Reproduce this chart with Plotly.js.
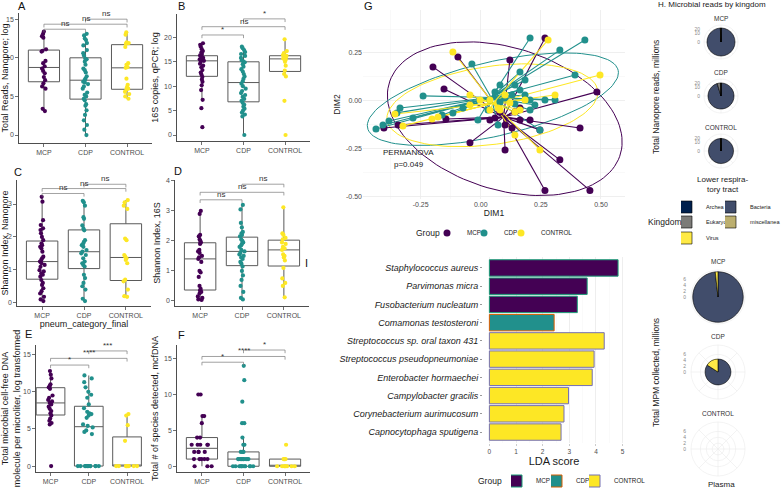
<!DOCTYPE html>
<html>
<head>
<meta charset="utf-8">
<script src="https://cdn.plot.ly/plotly-3.0.1.min.js"></script>
<style>
html,body{margin:0;padding:0;background:#fff;}
#fig{width:784px;height:489px;}
</style>
</head>
<body>
<div id="fig"></div>
<script>
const W = 784, H = 489;
const FONT = 'Liberation Sans, Arial, Helvetica, sans-serif';
const TICK = '#4d4d4d';

const groups = ['MCP', 'CDP', 'CONTROL'];
const groupColors = ['#440154', '#21908C', '#FDE725'];
const outlineColors = ['#1B9E77', '#D95F02', '#7570B3'];

// A: total Nanopore reads (log)
const readsMCP = [13.4,13.1,12.8,12.6,11.1,10.9,10.8,9.6,9.3,8.9,8.6,8.3,8.0,7.5,7.1,6.7,6.3,6.0,3.4,3.1];
const readsCDP = [13.1,12.9,12.5,12.3,11.9,11.6,11.0,10.6,10.3,9.9,9.8,9.5,9.1,8.6,8.4,8.1,7.6,7.3,7.1,6.9,6.8,6.6,6.3,6.0,5.5,5.2,5.0,4.7,4.5,4.0,3.8,3.2,2.6,1.9,1.3,0.7,0];
const readsCTRL = [13.3,13.0,12.0,11.9,11.8,11.4,9.3,9.1,8.8,8.7,7.3,6.5,6.2,6.0,5.9,5.6,5.3,5.0,4.7];
// B: 16S copies, qPCR (log)
const qpcrMCP = [18.8,18.5,18.1,17.6,17.2,16.9,16.6,16.3,16.1,15.9,15.8,15.7,15.6,15.5,15.4,15.2,15.0,14.6,14.2,13.9,13.3,12.8,12.4,11.9,11.4,10.9,10.2,9.2,7.2,5.5,1.6];
const qpcrCDP = [18.1,17.8,17.4,17.0,16.6,16.2,15.8,15.3,15.1,14.9,14.5,14.0,13.5,13.0,12.5,12.0,11.5,11.0,10.5,10.0,9.5,9.0,8.6,8.2,7.8,7.4,7.0,6.6,6.2,5.8,5.4,5.0,4.6,4.2,3.8,0];
const qpcrCTRL = [19.6,17.2,16.8,16.4,16.2,16.0,15.9,15.7,15.6,15.4,15.0,14.2,13.2,12.5,12.0,7.0,0];
// C: Shannon index, Nanopore
const shanMCP = [3.22,3.07,2.51,2.36,2.26,2.21,2.11,2.0,1.9,1.8,1.75,1.7,1.65,1.55,1.4,1.35,1.3,1.25,1.2,1.15,1.09,0.99,0.95,0.89,0.85,0.79,0.69,0.6,0.54,0.44,0.35,0.28,0.18,0.1,0.05];
const shanCDP = [3.1,3.05,2.95,2.6,2.55,2.35,2.25,2.2,1.9,1.85,1.8,1.75,1.7,1.6,1.55,1.5,1.45,1.35,1.25,1.2,1.15,1.1,0.85,0.75,0.6,0.5,0.4,0.12,0.05];
const shanCTRL = [3.12,3.05,2.95,2.85,1.95,1.9,1.45,1.4,1.35,1.3,1.2,0.7,0.65,0.4,0.2,0.18];
// D: Shannon index, 16S
const s16MCP = [3.0,2.9,2.2,2.15,2.05,2.0,1.95,1.9,1.7,1.65,1.6,1.5,1.45,1.4,1.3,1.0,0.95,0.8,0.5,0.4,0.35,0.3,0.25,0.15,0.1,0.05,0.03];
const s16CDP = [3.2,3.05,2.6,2.45,2.3,2.25,2.2,2.15,2.05,2.0,1.95,1.9,1.85,1.8,1.7,1.65,1.6,1.55,1.5,1.45,1.4,1.3,1.25,1.15,1.0,0.85,0.7,0.5,0.3,0.1,0.05];
const s16CTRL = [3.12,2.25,2.2,2.1,2.05,1.95,1.9,1.8,1.75,1.7,1.55,1.5,1.45,1.35,1.1,0.75,0.6,0.5,0.12];
// E: microbial cell-free DNA molecules per microliter (log)
const cfMCP = [12.8,12.3,11.8,11.0,10.8,10.6,10.4,9.5,9.2,8.9,8.7,8.5,8.3,8.0,7.7,7.4,7.1,6.8,6.4,6.1,5.8,5.6,0];
const cfCDP = [12.2,11.8,11.3,10.6,10.0,9.6,9.2,8.3,7.8,7.3,7.1,7.0,6.8,6.5,5.6,5.4,5.2,4.8,4.6,4.3,0,0,0,0,0,0,0,0,0,0,0,0];
const cfCTRL = [7.0,6.8,5.5,3.4,0,0,0,0,0,0,0,0,0];
// F: species detected, mcfDNA
const spMCP = [10,10,7,7,6,4,4,3,3,3,3,3,2,2,2,2,1,1,1,1,1,0,0,0];
const spCDP = [14,12,9,6,6,4,3,3,2,2,2,2,1,1,1,1,1,1,1,1,1,1,0,0,0,0,0,0,0,0,0,0,0,0];
const spCTRL = [3,1,1,1,1,0,0,0,0,0,0,0,0];

// G: ordination coordinates
const dimMCPx = [-0.095,-0.199,-0.153,-0.403,-0.344,-0.145,-0.045,0.267,0.121,0.413,0.483,0.454,0.267,0.101,0.329,0.163,0.080,0.038,0.130,0.163,0.059,0.101,0.142,0.205,0.246];
const dimMCPy = [0.229,0.177,0.061,-0.143,-0.127,-0.096,-0.221,0.328,0.213,-0.143,0.046,-0.47,-0.47,-0.258,-0.310,-0.101,-0.059,-0.101,-0.143,-0.038,-0.091,-0.127,-0.059,-0.101,-0.153];
const dimCDPx = [-0.037,-0.240,-0.336,-0.349,-0.382,-0.407,-0.436,-0.282,-0.161,-0.116,-0.074,0.205,0.329,0.433,0.163,0.184,0.080,0.309,0.205,0.392,0.130,0.038,-0.012,0.072,0.246,0.059,0.101,0.142,0.030,0.163,0.205,0.142,0.184,0.225,0.267,0.080];
const dimCDPy = [0.192,0.025,-0.038,-0.064,-0.106,-0.127,-0.148,-0.091,-0.075,-0.064,-0.038,0.328,0.265,0.318,0.150,0.108,0.082,0.004,-0.049,0.135,0.030,0.004,-0.101,-0.127,-0.153,0.046,0.014,-0.017,-0.049,0.056,0.004,0.082,0.030,-0.023,0.004,-0.007];
const dimCTRLx = [-0.116,-0.357,-0.324,-0.203,-0.178,0.280,0.496,0.309,0.080,0.184,-0.045,0.246,0.142,0.038,0.101,0.072,0.142,-0.003,0.038,0.121,0.163,-0.045];
const dimCTRLy = [0.255,-0.070,-0.132,-0.096,-0.085,0.318,0.135,0.030,-0.049,0.004,0.030,-0.258,-0.180,0.004,0.030,-0.038,-0.059,0.004,-0.049,-0.012,-0.049,-0.023];

// H: reads by kingdom, millions
const kingdoms = ['Archea', 'Bacteria', 'Eukaryota', 'miscellanea', 'Virus'];
const kingdomColors = ['#00204D', '#414D6B', '#7C7B78', '#BCAF6F', '#FFEA46'];
const lrtMCP = [0.06, 23.4, 0.12, 0.03, 0.03];
const lrtCDP = [0.04, 19.4, 0.9, 0.05, 0.02];
const lrtCTRL = [0.05, 18.6, 0.1, 0.02, 0.02];
const plasmaMCP = [0, 8.45, 0, 0, 0.15];
const plasmaCDP = [0, 3.7, 0, 0, 0.7];
const plasmaCTRL = [0, 0, 0, 0, 0];

// I: LDA effect sizes
const ldaSpecies = ['Staphylococcus aureus','Parvimonas micra','Fusobacterium nucleatum','Comamonas testosteroni','Streptococcus sp. oral taxon 431','Streptococcus pseudopneumoniae','Enterobacter hormaechei','Campylobacter gracilis','Corynebacterium aurimucosum','Capnocytophaga sputigena'];
const ldaScore = [4.83, 3.67, 3.30, 2.43, 4.31, 3.93, 3.86, 2.97, 2.80, 2.69];
const ldaGroup = ['MCP','MCP','MCP','CDP','CONTROL','CONTROL','CONTROL','CONTROL','CONTROL','CONTROL'];

// ---------- helpers ----------
const fx = p => p / W;
const fy = p => 1 - p / H;
const xdom = (l, r) => [fx(l), fx(r)];
const ydom = (t, b) => [fy(b), fy(t)];
const axName = (letter, n) => letter + (n === 1 ? '' : n);
const axKey = (letter, n) => letter + 'axis' + (n === 1 ? '' : n);

const traces = [];
const shapes = [];
const annotations = [];
const layout = {
  width: W, height: H,
  margin: {l: 0, r: 0, t: 0, b: 0, autoexpand: false},
  paper_bgcolor: '#ffffff', plot_bgcolor: '#ffffff',
  font: {family: FONT, size: 8, color: '#1a1a1a'},
  hovermode: false,
  barmode: 'overlay',
  showlegend: true
};

function text(x, y, t, opts) {
  annotations.push(Object.assign({
    xref: 'paper', yref: 'paper', x: fx(x), y: fy(y), text: t, showarrow: false,
    xanchor: 'center', yanchor: 'middle', font: {size: 8, color: '#1a1a1a'}
  }, opts || {}));
}

// one-entry legends so each key can sit at its own spot
function legendAt(name, keyX, keyY, size) {
  layout[name] = {
    x: fx(keyX - 7), y: fy(keyY), xanchor: 'left', yanchor: 'middle', orientation: 'h',
    font: {size: size || 6.3, color: '#1a1a1a'}, bgcolor: 'rgba(0,0,0,0)',
    indentation: -15, itemwidth: 30
  };
}

// ---------- A-F: box plots with points ----------
const boxPanels = [
  {letter: 'A', lp: [22, 6], series: [readsMCP, readsCDP, readsCTRL], xpx: [19, 152], xr: [-0.6, 2.6], ypx: [13, 143],
   yrange: [-1.03, 15.8], yticks: [0, 5, 10, 15], ytitle: 'Total Reads, Nanopore; log', jitter: [0.18, 0.18, 0.18],
   sig: [[0, 1, 'ns', 13.7], [0, 2, 'ns', 14.35], [1, 2, 'ns', 15.0]]},
  {letter: 'B', lp: [181, 6], series: [qpcrMCP, qpcrCDP, qpcrCTRL], xpx: [177, 310], xr: [-0.6, 2.6], ypx: [14, 141],
   yrange: [-1.23, 24.8], yticks: [0, 5, 10, 15, 20], ytitle: '16S copies, qPCR; log', jitter: [0.18, 0.18, 0.18],
   sig: [[0, 1, '*', 20.5], [0, 2, 'ns', 22.2], [1, 2, '*', 23.8]]},
  {letter: 'C', lp: [18, 172], series: [shanMCP, shanCDP, shanCTRL], xpx: [17, 151], xr: [-0.6, 2.6], ypx: [180, 306],
   yrange: [-0.1, 3.73], yticks: [0, 1, 2, 3], ytitle: 'Shannon Index, Nanopore', xtitle: 'pneum_category_final', jitter: [0.18, 0.18, 0.18],
   sig: [[0, 1, 'ns', 3.32], [0, 2, 'ns', 3.47], [1, 2, 'ns', 3.6]]},
  {letter: 'D', lp: [178, 171], series: [s16MCP, s16CDP, s16CTRL], xpx: [175, 309], xr: [-0.6, 2.6], ypx: [180, 306],
   yrange: [-0.17, 4.03], yticks: [0, 1, 2, 3, 4], ytitle: 'Shannon Index, 16S', jitter: [0.18, 0.18, 0.18],
   sig: [[0, 1, 'ns', 3.37], [0, 2, 'ns', 3.62], [1, 2, 'ns', 3.89]]},
  {letter: 'E', lp: [28, 334], series: [cfMCP, cfCDP, cfCTRL], xpx: [36, 150], xr: [-0.38, 2.6], ypx: [345, 472],
   yrange: [-0.8, 16.3], yticks: [0, 5, 10, 15], ytitle: 'Total microbial cell-free DNA<br>molecule per microliter, log transformed', jitter: [0.18, 0.9, 0.9],
   sig: [[0, 1, '*', 13.6], [0, 2, '****', 14.5], [1, 2, '***', 15.5]]},
  {letter: 'F', lp: [181, 335], series: [spMCP, spCDP, spCTRL], xpx: [177, 310], xr: [-0.6, 2.6], ypx: [345, 472],
   yrange: [-0.8, 16.9], yticks: [0, 5, 10, 15], ytitle: 'Total # of species detected, mcfDNA', jitter: [0.8, 0.8, 0.8],
   sig: [[0, 1, '*', 14.5], [0, 2, '****', 15.3], [1, 2, '*', 16.2]]}
];

boxPanels.forEach((p, k) => {
  const n = k + 1;
  const xr = axName('x', n), yr = axName('y', n);
  layout[axKey('x', n)] = {
    domain: xdom(p.xpx[0], p.xpx[1]), anchor: yr, range: p.xr,
    tickmode: 'array', tickvals: [0, 1, 2], ticktext: groups,
    showline: true, linecolor: '#222', linewidth: 0.8,
    ticks: 'outside', ticklen: 3, tickwidth: 0.7, tickcolor: '#333',
    tickfont: {size: 7, color: TICK}, showgrid: false, zeroline: false, fixedrange: true,
    title: p.xtitle ? {text: p.xtitle, font: {size: 9, color: '#1a1a1a'}, standoff: 2} : undefined
  };
  layout[axKey('y', n)] = {
    domain: ydom(p.ypx[0], p.ypx[1]), anchor: xr, range: p.yrange,
    tickmode: 'array', tickvals: p.yticks,
    showline: true, linecolor: '#222', linewidth: 0.8,
    ticks: 'outside', ticklen: 3, tickwidth: 0.7, tickcolor: '#333',
    tickfont: {size: 7, color: TICK}, showgrid: false, zeroline: false, fixedrange: true,
    title: {text: p.ytitle, font: {size: 9, color: '#1a1a1a'}, standoff: 3}
  };
  p.series.forEach((vals, i) => {
    traces.push({
      type: 'box', x0: i, y: vals, xaxis: xr, yaxis: yr, width: 0.75,
      boxpoints: 'all', jitter: p.jitter[i], pointpos: 0, whiskerwidth: 0,
      fillcolor: '#ffffff', line: {color: '#5a5a5a', width: 1},
      marker: {color: groupColors[i], size: 4.2, line: {width: 0}},
      showlegend: false, hoverinfo: 'skip'
    });
  });
  const span = p.yrange[1] - p.yrange[0];
  const tip = span * 0.025;
  p.sig.forEach(([a, b, lab, lev]) => {
    const ln = {color: '#7a7a7a', width: 0.7};
    shapes.push({type: 'line', xref: xr, yref: yr, x0: a, x1: b, y0: lev, y1: lev, line: ln});
    shapes.push({type: 'line', xref: xr, yref: yr, x0: a, x1: a, y0: lev, y1: lev - tip, line: ln});
    shapes.push({type: 'line', xref: xr, yref: yr, x0: b, x1: b, y0: lev, y1: lev - tip, line: ln});
    annotations.push({xref: xr, yref: yr, x: (a + b) / 2, y: lev, text: lab, showarrow: false,
      yanchor: 'bottom', yshift: -1, font: {size: 8, color: '#333'}});
  });
  text(p.lp[0], p.lp[1], p.letter, {font: {size: 11, color: '#111'}});
});

// ---------- G: ordination with spiders and ellipses ----------
const gx = 7;
const gxr = axName('x', gx), gyr = axName('y', gx);
const fmt = v => v.toFixed(2);
layout[axKey('x', gx)] = {
  domain: xdom(363, 625), anchor: gyr, range: [-0.49, 0.6],
  tickmode: 'array', tickvals: [-0.25, 0, 0.25, 0.5], ticktext: [-0.25, 0, 0.25, 0.5].map(fmt),
  showgrid: true, gridcolor: '#ebebeb', gridwidth: 0.8, zeroline: false, showline: false, ticks: '',
  minor: {tickmode: 'array', tickvals: [-0.375, -0.125, 0.125, 0.375], showgrid: true, gridcolor: '#f4f4f4', gridwidth: 0.5},
  tickfont: {size: 7, color: TICK}, fixedrange: true,
  title: {text: 'DIM1', font: {size: 8.5, color: '#1a1a1a'}, standoff: 2}
};
layout[axKey('y', gx)] = {
  domain: ydom(10, 199), anchor: gxr, range: [-0.515, 0.475],
  tickmode: 'array', tickvals: [-0.5, -0.25, 0, 0.25], ticktext: [-0.5, -0.25, 0, 0.25].map(fmt),
  showgrid: true, gridcolor: '#ebebeb', gridwidth: 0.8, zeroline: false, showline: false, ticks: '',
  minor: {tickmode: 'array', tickvals: [-0.375, -0.125, 0.125, 0.375], showgrid: true, gridcolor: '#f4f4f4', gridwidth: 0.5},
  tickfont: {size: 7, color: TICK}, fixedrange: true,
  title: {text: 'DIM2', font: {size: 8.5, color: '#1a1a1a'}, standoff: 4}
};

const ordination = [[dimMCPx, dimMCPy], [dimCDPx, dimCDPy], [dimCTRLx, dimCTRLy]];
const mean = a => a.reduce((s, v) => s + v, 0) / a.length;

// Robust (multivariate t, nu = 5) location/scatter, then a 95% ellipse
// scaled by sqrt(2 * F(0.95; 2, n-1)).
function robustEllipse(xs, ys) {
  const n = xs.length, nu = 5, p = 2;
  let mx = mean(xs), my = mean(ys);
  let w = new Array(n).fill(1);
  let sxx = 0, syy = 0, sxy = 0;
  for (let it = 0; it < 500; it++) {
    const sw = w.reduce((s, v) => s + v, 0);
    sxx = 0; syy = 0; sxy = 0;
    for (let i = 0; i < n; i++) {
      const dx = xs[i] - mx, dy = ys[i] - my;
      sxx += w[i] * dx * dx; syy += w[i] * dy * dy; sxy += w[i] * dx * dy;
    }
    sxx /= sw; syy /= sw; sxy /= sw;
    const det = sxx * syy - sxy * sxy;
    const w0 = w.slice();
    for (let i = 0; i < n; i++) {
      const dx = xs[i] - mx, dy = ys[i] - my;
      const q = (syy * dx * dx - 2 * sxy * dx * dy + sxx * dy * dy) / det;
      w[i] = (nu + p) / (nu + q);
    }
    const sw2 = w.reduce((s, v) => s + v, 0);
    mx = xs.reduce((s, v, i) => s + w[i] * v, 0) / sw2;
    my = ys.reduce((s, v, i) => s + w[i] * v, 0) / sw2;
    if (w.every((v, i) => Math.abs(v - w0[i]) < 1e-6)) break;
  }
  sxx = 0; syy = 0; sxy = 0;
  for (let i = 0; i < n; i++) {
    const dx = xs[i] - mx, dy = ys[i] - my;
    sxx += w[i] * dx * dx; syy += w[i] * dy * dy; sxy += w[i] * dx * dy;
  }
  sxx /= n; syy /= n; sxy /= n;
  const tr = sxx + syy, det = sxx * syy - sxy * sxy;
  const disc = Math.sqrt(Math.max(tr * tr / 4 - det, 0));
  const l1 = tr / 2 + disc, l2 = Math.max(tr / 2 - disc, 0);
  const th = 0.5 * Math.atan2(2 * sxy, sxx - syy);
  const d2 = n - 1;
  const fq = (d2 / 2) * (Math.pow(0.05, -2 / d2) - 1);
  const s = Math.sqrt(2 * fq);
  const ex = [], ey = [];
  for (let k = 0; k <= 120; k++) {
    const t = 2 * Math.PI * k / 120;
    const a = s * Math.sqrt(l1) * Math.cos(t), b = s * Math.sqrt(l2) * Math.sin(t);
    ex.push(mx + a * Math.cos(th) - b * Math.sin(th));
    ey.push(my + a * Math.sin(th) + b * Math.cos(th));
  }
  return [ex, ey];
}

ordination.forEach(([xs, ys], i) => {
  const [ex, ey] = robustEllipse(xs, ys);
  traces.push({type: 'scatter', mode: 'lines', x: ex, y: ey, xaxis: gxr, yaxis: gyr,
    line: {color: groupColors[i], width: 1}, showlegend: false, hoverinfo: 'skip'});
});
ordination.forEach(([xs, ys], i) => {
  const mx = mean(xs), my = mean(ys);
  const lx = [], ly = [];
  xs.forEach((v, j) => { lx.push(v, mx, null); ly.push(ys[j], my, null); });
  traces.push({type: 'scatter', mode: 'lines', x: lx, y: ly, xaxis: gxr, yaxis: gyr,
    line: {color: groupColors[i], width: 1.1}, showlegend: false, hoverinfo: 'skip'});
});
const gLegends = ['legend', 'legend6', 'legend7'];
const gKeyX = [449, 486, 523];
ordination.forEach(([xs, ys], i) => {
  traces.push({type: 'scatter', mode: 'markers', x: xs, y: ys, xaxis: gxr, yaxis: gyr,
    marker: {color: groupColors[i], size: 7}, name: groups[i], legend: gLegends[i], showlegend: true,
    hoverinfo: 'skip', cliponaxis: false});
  legendAt(gLegends[i], gKeyX[i], 233);
});
text(428, 233, 'Group', {font: {size: 8.5, color: '#1a1a1a'}});
text(368, 6, 'G', {font: {size: 11, color: '#111'}});
text(409, 153, 'PERMANOVA', {font: {size: 8, color: '#1a1a1a'}});
text(409, 164, 'p=0.049', {font: {size: 8, color: '#1a1a1a'}});

// ---------- I: LDA bars ----------
const ix = 8;
const ixr = axName('x', ix), iyr = axName('y', ix);
const iLegends = ['legend2', 'legend8', 'legend9'];
const iKeyX = [518, 558, 596];
groups.forEach((g, gi) => {
  const idx = ldaGroup.map((v, j) => v === g ? j : -1).filter(j => j >= 0);
  traces.push({type: 'bar', orientation: 'h', x: idx.map(j => ldaScore[j]), y: idx.map(j => ldaSpecies[j]),
    xaxis: ixr, yaxis: iyr, width: 0.9,
    marker: {color: groupColors[gi], line: {color: outlineColors[gi], width: 1}},
    name: g, legend: iLegends[gi], showlegend: true, hoverinfo: 'skip'});
  legendAt(iLegends[gi], iKeyX[gi], 481);
});
text(490, 481, 'Group', {font: {size: 8.5, color: '#1a1a1a'}});
layout[axKey('x', ix)] = {
  domain: xdom(483, 625), anchor: iyr, range: [-0.24, 5.09],
  tickmode: 'array', tickvals: [0, 1, 2, 3, 4, 5],
  showgrid: true, gridcolor: '#ebebeb', gridwidth: 0.8, zeroline: false, showline: false,
  minor: {dtick: 0.5, showgrid: true, gridcolor: '#f5f5f5', gridwidth: 0.5},
  ticks: 'outside', ticklen: 2, tickcolor: '#999', tickwidth: 0.5,
  tickfont: {size: 6.5, color: TICK}, fixedrange: true,
  title: {text: 'LDA score', font: {size: 11, color: '#1a1a1a'}, standoff: 3}
};
layout[axKey('y', ix)] = {
  domain: ydom(257, 443), anchor: ixr, type: 'category',
  categoryorder: 'array', categoryarray: ldaSpecies.slice().reverse(), range: [-0.6, 9.6],
  showgrid: false, zeroline: false, showline: false,
  ticks: 'outside', ticklen: 2, tickcolor: '#555', tickwidth: 0.6,
  tickfont: {size: 9, color: '#1a1a1a', style: 'italic'}, fixedrange: true
};
text(306, 263, 'I', {font: {size: 11, color: '#111'}});

// ---------- H: kingdom pies ----------
const tissueScale = {
  lrt: {R: 17, rmax: 5.9, tr: Math.sqrt, ticks: [0, 10, 20], labelX: 700},
  plasma: {R: 27, rmax: 9.2, tr: v => v, ticks: [0, 2, 4, 6], labelX: 686}
};
const pieSets = [
  {tissue: 'lrt', label: 'MCP', values: lrtMCP, c: [721, 42]},
  {tissue: 'lrt', label: 'CDP', values: lrtCDP, c: [721, 96]},
  {tissue: 'lrt', label: 'CONTROL', values: lrtCTRL, c: [721, 151]},
  {tissue: 'plasma', label: 'MCP', values: plasmaMCP, c: [718, 297]},
  {tissue: 'plasma', label: 'CDP', values: plasmaCDP, c: [718, 372]},
  {tissue: 'plasma', label: 'CONTROL', values: plasmaCTRL, c: [718, 449]}
];
const kingdomLegend = ['legend3', 'legend10', 'legend4', 'legend11', 'legend5'];
const kingdomKey = [[688, 207], [732, 207], [688, 222], [732, 222], [688, 238]];
kingdomLegend.forEach((name, j) => legendAt(name, kingdomKey[j][0], kingdomKey[j][1], 5.6));

layout.xaxis9 = {domain: xdom(700, 702), anchor: 'y9', visible: false, fixedrange: true};
pieSets.forEach((ps, k) => {
  const sub = 'polar' + (k === 0 ? '' : k + 1);
  const sc = tissueScale[ps.tissue];
  const total = ps.values.reduce((a, b) => a + b, 0);
  let acc = 0, drew = false;
  ps.values.forEach((v, j) => {
    if (v <= 0) return;
    const a0 = acc / total * 360; acc += v; const a1 = acc / total * 360;
    traces.push({type: 'barpolar', subplot: sub, r: [sc.tr(total)], theta: [(a0 + a1) / 2], width: [a1 - a0], base: 0,
      marker: {color: kingdomColors[j], line: {color: '#000', width: 0.6}},
      name: kingdoms[j], legend: kingdomLegend[j], showlegend: k === 0, hoverinfo: 'skip'});
    drew = true;
  });
  if (!drew) {
    traces.push({type: 'barpolar', subplot: sub, r: [null], theta: [null], showlegend: false, hoverinfo: 'skip'});
  }
  const [cx, cy] = ps.c, R = sc.R;
  layout[sub] = {
    domain: {x: xdom(cx - R, cx + R), y: ydom(cy - R, cy + R)},
    bgcolor: '#ffffff', barmode: 'overlay',
    angularaxis: {direction: 'clockwise', rotation: 90, showticklabels: false, ticks: '',
      showgrid: true, gridcolor: '#ebebeb', gridwidth: 0.6, dtick: 45,
      showline: true, linecolor: '#ebebeb', linewidth: 0.6},
    radialaxis: {range: [0, sc.rmax], tickmode: 'array', tickvals: sc.ticks.map(sc.tr),
      showticklabels: false, ticks: '', showline: false, showgrid: true, gridcolor: '#ebebeb', gridwidth: 0.6}
  };
  // radial scale labels to the left of each pie
  const yn = 9 + k;
  layout['yaxis' + yn] = {
    domain: ydom(cy - R, cy), range: [0, sc.rmax], anchor: 'free', position: fx(sc.labelX),
    tickmode: 'array', tickvals: sc.ticks.map(sc.tr), ticktext: sc.ticks.map(String),
    ticks: '', showgrid: false, zeroline: false, showline: false,
    tickfont: {size: 5, color: '#8a8a8a'}, fixedrange: true
  };
  traces.push({type: 'scatter', x: [null], y: [null], xaxis: 'x9', yaxis: 'y' + yn,
    showlegend: false, hoverinfo: 'skip'});
  text(cx, cy - (ps.tissue === 'lrt' ? 24 : 36), ps.label, {font: {size: 6.5, color: '#333'}});
});

text(712, 5, 'H. Microbial reads by kingdom', {font: {size: 8, color: '#1a1a1a'}});
text(656, 97, 'Total Nanopore reads, millions', {textangle: -90, font: {size: 8.5, color: '#1a1a1a'}});
text(656, 373, 'Total MPM collected, millions', {textangle: -90, font: {size: 8.5, color: '#1a1a1a'}});
text(722, 184, 'Lower respira-<br>tory tract', {font: {size: 8, color: '#1a1a1a'}});
text(721, 484, 'Plasma', {font: {size: 8, color: '#1a1a1a'}});
text(665, 222, 'Kingdom', {font: {size: 8.5, color: '#1a1a1a'}});

layout.shapes = shapes;
layout.annotations = annotations;

Plotly.newPlot('fig', traces, layout, {staticPlot: true, displayModeBar: false});
</script>
</body>
</html>
